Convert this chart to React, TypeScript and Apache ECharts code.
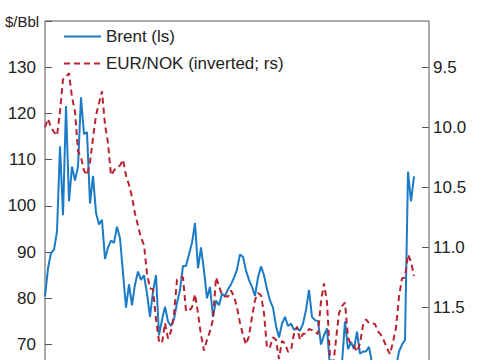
import React, { useEffect, useRef } from "react";
import * as echarts from "echarts";

// Time index (biweekly samples); x-axis labels are not shown in the reference crop
const periods: string[] = Array.from({ length: 129 }, (_, i) => `P${i + 1}`);

// Brent, USD per barrel (left scale)
const brent: number[] = [
  80.4, 86.5, 89.8, 90.5, 94.5, 112.9, 98.0, 121.6, 101.0, 108.5,
  105.5, 108.5, 123.5, 115.5, 116.0, 100.5, 106.5, 98.5, 96.0, 97.0,
  88.5, 91.0, 92.5, 92.0, 95.5, 93.0, 85.5, 78.0, 83.0, 78.5,
  83.0, 85.8, 84.0, 85.0, 81.0, 76.0, 81.5, 85.0, 72.0, 75.3,
  78.2, 75.0, 74.0, 75.5, 79.0, 81.8, 87.0, 87.0, 89.5, 92.0,
  96.3, 86.5, 91.0, 86.0, 80.0, 82.5, 76.0, 79.5, 78.5, 81.0,
  80.5, 82.0, 83.0, 84.5, 86.2, 89.5, 89.0, 86.0, 84.0, 82.5,
  80.5, 84.5, 86.9, 85.0, 82.0, 79.5, 78.0, 74.0, 71.5, 74.5,
  76.0, 74.0, 74.5, 73.2, 73.5, 73.0, 74.5, 77.5, 81.8, 76.0,
  75.3, 75.0, 70.0, 72.0, 73.5, 65.0, 63.0, 62.0, 64.0, 66.0,
  75.0, 69.0, 70.5, 69.0, 72.8, 68.0, 68.5, 68.5, 69.5, 66.0,
  64.0, 63.0, 63.0, 64.0, 63.0, 62.0, 62.0, 65.0, 68.5, 70.0,
  71.0, 107.4, 101.0, 106.4,
];

// EUR/NOK (right scale, inverted)
const eurnok: number[] = [
  10.0, 9.93, 10.0, 10.04, 10.07, 9.87, 9.6, 9.58, 9.55, 9.75,
  9.87, 10.2, 10.25, 10.36, 10.4, 10.29, 10.09, 9.9, 9.8, 9.7,
  9.98, 10.13, 10.4, 10.36, 10.33, 10.32, 10.27, 10.4, 10.48, 10.58,
  10.72, 10.82, 10.92, 10.98, 11.22, 11.34, 11.35, 11.6, 11.78, 11.8,
  11.63, 11.76, 11.7, 11.56, 11.27, 11.25, 11.25, 11.53, 11.53, 11.5,
  11.39, 11.55, 11.73, 11.86, 11.77, 11.7, 11.6, 11.25, 11.32, 11.4,
  11.41, 11.41, 11.36, 11.41, 11.5, 11.63, 11.73, 11.81, 11.74, 11.58,
  11.44, 11.38, 11.4, 11.55, 11.84, 11.83, 11.75, 11.77, 11.93, 11.78,
  11.8, 11.87, 11.86, 11.72, 11.66, 11.77, 11.72, 11.72, 11.68, 11.69,
  11.71, 11.72, 11.45, 11.3, 11.46, 11.91, 12.0, 11.77, 11.55, 11.49,
  11.46, 11.75, 11.81, 11.82, 11.87, 11.8, 11.65, 11.6, 11.63, 11.63,
  11.64, 11.7, 11.73, 11.78, 11.84, 11.89, 11.79, 11.67, 11.41, 11.26,
  11.25, 11.06, 11.12, 11.24,
];

const leftTicks: number[] = [50, 60, 70, 80, 90, 100, 110, 120, 130, 140];
const rightTicks: number[] = [9.5, 10.0, 10.5, 11.0, 11.5, 12.0, 12.5];

const FONT = "Liberation Sans";
// The reference is a crop of a taller chart: the plot continues below the 360px window.
const CHART_H = 437;

export default function App() {
  const ref = useRef<HTMLDivElement>(null);
  useEffect(() => {
    if (!ref.current) return;
    const chart = echarts.init(ref.current, null, { renderer: "svg" });
    chart.setOption({
      animation: false,
      backgroundColor: "#ffffff",
      textStyle: { fontFamily: FONT },
      grid: {
        left: 45,
        right: 56,
        top: 21,
        bottom: 0,
        outerBoundsMode: "none",
        containLabel: false,
        show: true,
        borderColor: "#555",
        borderWidth: 1,
        backgroundColor: "transparent",
      },
      legend: {
        orient: "vertical",
        left: 63,
        top: 28,
        padding: 0,
        itemWidth: 37,
        itemHeight: 14,
        itemGap: 10,
        itemStyle: { opacity: 0 },
        textStyle: { fontFamily: FONT, fontSize: 17, color: "#222" },
        data: ["Brent (ls)", "EUR/NOK (inverted; rs)"],
      },
      graphic: [
        {
          type: "text",
          left: 5,
          top: 14,
          style: { text: "$/Bbl", font: `15px '${FONT}'`, fill: "#222" },
        },
      ],
      xAxis: {
        type: "category",
        data: periods,
        boundaryGap: false,
        show: false,
      },
      yAxis: [
        {
          type: "value",
          position: "left",
          min: leftTicks[0],
          max: leftTicks[leftTicks.length - 1],
          interval: 10,
          axisLine: { show: false },
          splitLine: { show: false },
          axisTick: { show: true, inside: true, length: 7, lineStyle: { color: "#555" } },
          axisLabel: {
            margin: 9,
            fontFamily: FONT,
            fontSize: 17,
            color: "#222",
            formatter: (v: number) => (v === 140 ? "" : String(v)),
          },
        },
        {
          type: "value",
          position: "right",
          inverse: true,
          min: 9.115,
          max: 12.58,
          axisLine: { show: false },
          splitLine: { show: false },
          axisTick: {
            show: true,
            inside: true,
            length: 7,
            lineStyle: { color: "#555" },
            customValues: rightTicks,
          },
          axisLabel: {
            margin: 4,
            fontFamily: FONT,
            fontSize: 17,
            color: "#222",
            customValues: rightTicks,
            formatter: (v: number) => v.toFixed(1),
          },
        },
      ],
      series: [
        {
          name: "Brent (ls)",
          type: "line",
          yAxisIndex: 0,
          data: brent,
          symbol: "none",
          lineStyle: { color: "#1b7bc7", width: 2 },
          itemStyle: { color: "#1b7bc7" },
        },
        {
          name: "EUR/NOK (inverted; rs)",
          type: "line",
          yAxisIndex: 1,
          data: eurnok,
          symbol: "none",
          lineStyle: { color: "#b8232f", width: 2, type: [6, 4] },
          itemStyle: { color: "#b8232f" },
        },
      ],
    });
    return () => chart.dispose();
  }, []);
  return (
    <div
      ref={ref}
      style={{ position: "fixed", left: 0, top: 0, width: 485, height: CHART_H, background: "#fff" }}
    />
  );
}
